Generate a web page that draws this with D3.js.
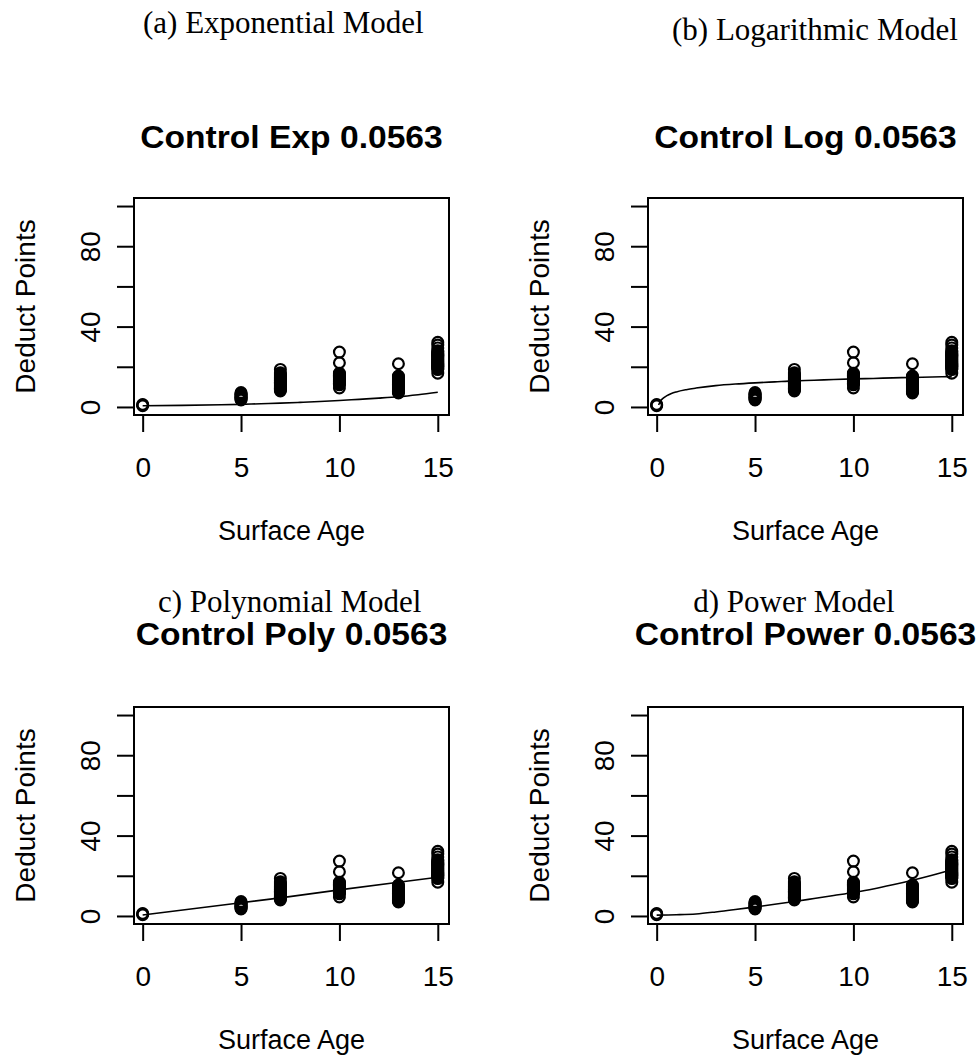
<!DOCTYPE html>
<html>
<head>
<meta charset="utf-8">
<script src="https://cdn.jsdelivr.net/npm/d3@7"></script>
<style>
  html, body { margin: 0; padding: 0; background: #fff; }
  svg { display: block; }
</style>
</head>
<body>
<svg id="chart" width="979" height="1057"></svg>
<script>
// Observed deduct points, one array per surface age
const surfaceAges = [0, 5, 7, 10, 13, 15];
const deductAge0 = [0.6, 1.0, 1.2];
const deductAge5 = [3.5, 3.9, 4.3, 4.6, 5.0, 5.4, 5.8, 6.2, 6.7, 7.2];
const deductAge7 = [8.0, 8.4, 8.9, 9.3, 9.7, 10.1, 10.6, 11.0, 11.4, 11.9, 12.3, 12.8, 13.2, 13.6, 14.1, 14.6, 15.0, 15.5, 16.0, 16.5, 17.0, 18.7];
const deductAge10 = [9.5, 11.0, 11.4, 11.8, 12.3, 12.7, 13.1, 13.6, 14.0, 14.5, 14.9, 15.4, 15.8, 16.3, 16.8, 22.0, 27.3];
const deductAge13 = [7.0, 7.4, 7.8, 8.3, 8.7, 9.1, 9.6, 10.0, 10.5, 10.9, 11.3, 11.8, 12.2, 12.7, 13.1, 13.6, 14.0, 14.5, 15.0, 15.4, 21.5];
const deductAge15 = [16.8, 18.6, 19.0, 19.4, 19.9, 20.3, 20.8, 21.2, 21.7, 22.1, 22.6, 23.0, 23.5, 23.9, 24.4, 24.8, 25.3, 25.7, 26.2, 26.6, 27.1, 27.6, 28.0, 29.4, 30.8, 32.2];

// Fitted model curves (age, predicted deduct points)
const expFitAge = [0, 2, 4, 5, 6, 7, 8, 9, 10, 11, 12, 13, 14, 15];
const expFitValue = [0.6, 0.8, 1.1, 1.3, 1.6, 1.9, 2.3, 2.7, 3.2, 3.8, 4.4, 5.1, 6.1, 7.3];
const logFitAge = [0.1, 0.2, 0.35, 0.5, 0.75, 1, 1.5, 2, 3, 4, 5, 6, 7, 8, 9, 10, 11, 12, 13, 14, 15];
const logFitValue = [1.0, 3.0, 4.5, 5.5, 6.7, 7.5, 8.6, 9.4, 10.6, 11.4, 12.0, 12.5, 13.0, 13.3, 13.7, 14.0, 14.2, 14.5, 14.7, 14.9, 15.1];
const polyFitAge = [0, 5, 7, 10, 13, 15];
const polyFitValue = [0.5, 6.6, 9.0, 13.0, 16.8, 19.3];
const powerFitAge = [0, 1, 2, 3, 4, 5, 6, 7, 8, 9, 10, 11, 12, 13, 14, 15];
const powerFitValue = [0.4, 0.6, 1.0, 2.0, 3.2, 4.5, 5.8, 7.2, 8.7, 10.2, 11.7, 13.4, 15.5, 17.8, 20.3, 23.0];

// Text
const captions = ["(a) Exponential Model", "(b) Logarithmic Model", "c) Polynomial Model", "d) Power Model"];
const panelTitles = ["Control Exp 0.0563", "Control Log 0.0563", "Control Poly 0.0563", "Control Power 0.0563"];
const xTicks = [0, 5, 10, 15];
const yTicks = [0, 20, 40, 60, 80, 100];
const yTickLabels = ["0", "", "40", "", "80", ""];
const xAxisTitle = "Surface Age";
const yAxisTitle = "Deduct Points";

const observations = [deductAge0, deductAge5, deductAge7, deductAge10, deductAge13, deductAge15]
  .flatMap((vals, i) => vals.map(v => ({ age: surfaceAges[i], value: v })));

const fits = [
  { ages: expFitAge, values: expFitValue, curve: d3.curveMonotoneX },
  { ages: logFitAge, values: logFitValue, curve: d3.curveMonotoneX },
  { ages: polyFitAge, values: polyFitValue, curve: d3.curveLinear },
  { ages: powerFitAge, values: powerFitValue, curve: d3.curveMonotoneX }
];

// Layout of the 2x2 grid
const plotW = 315, plotH = 217;
const panelLeft = [134, 648, 134, 648];
const panelTop = [198, 198, 707, 707];
const titleBaseline = [148, 148, 645, 645];
const captionPos = [
  { x: 143, y: 33, anchor: "start" },
  { x: 672, y: 40, anchor: "start" },
  { x: 158, y: 612, anchor: "start" },
  { x: 794, y: 612, anchor: "middle" }
];

const svg = d3.select("#chart");
const sans = "'Liberation Sans', Arial, Helvetica, sans-serif";
const serif = "'Liberation Serif', 'Times New Roman', Times, serif";

const x = d3.scaleLinear().domain([-0.44, 15.57]).range([0, plotW]);
const y = d3.scaleLinear().domain([-4, 104]).range([plotH, 0]);

panelTitles.forEach((title, i) => {
  // caption above each panel
  svg.append("text")
    .attr("x", captionPos[i].x).attr("y", captionPos[i].y)
    .attr("text-anchor", captionPos[i].anchor)
    .attr("font-family", serif).attr("font-size", 31)
    .attr("fill", "#000")
    .text(captions[i]);

  const cx = panelLeft[i] + plotW / 2;
  svg.append("text")
    .attr("transform", `translate(${cx},${titleBaseline[i]}) scale(1.05,1)`)
    .attr("text-anchor", "middle")
    .attr("font-family", sans).attr("font-size", 32).attr("font-weight", "bold")
    .attr("fill", "#000")
    .text(title);

  const g = svg.append("g").attr("transform", `translate(${panelLeft[i]},${panelTop[i]})`);

  // x axis
  const gx = g.append("g").attr("transform", `translate(0,${plotH})`)
    .call(d3.axisBottom(x).tickValues(xTicks).tickSize(17).tickSizeOuter(0));
  gx.select(".domain").remove();
  gx.selectAll("line").attr("stroke", "#000").attr("stroke-width", 2);
  gx.selectAll("text")
    .attr("y", 62).attr("dy", 0)
    .attr("font-family", sans).attr("font-size", 28).attr("fill", "#000");

  // y axis
  const gy = g.append("g")
    .call(d3.axisLeft(y).tickValues(yTicks).tickSize(17).tickSizeOuter(0)
      .tickFormat((d, j) => yTickLabels[j]));
  gy.select(".domain").remove();
  gy.selectAll("line").attr("stroke", "#000").attr("stroke-width", 2);
  gy.selectAll("text")
    .attr("x", 0).attr("dy", 0)
    .attr("transform", "translate(-34,0) rotate(-90)")
    .attr("text-anchor", "middle")
    .attr("font-family", sans).attr("font-size", 28).attr("fill", "#000");

  // axis titles
  g.append("text")
    .attr("x", plotW / 2).attr("y", plotH + 125)
    .attr("text-anchor", "middle")
    .attr("font-family", sans).attr("font-size", 27).attr("fill", "#000")
    .text(xAxisTitle);
  g.append("text")
    .attr("transform", `translate(-99,${plotH / 2}) rotate(-90)`)
    .attr("text-anchor", "middle")
    .attr("font-family", sans).attr("font-size", 28).attr("fill", "#000")
    .text(yAxisTitle);

  // observations
  g.selectAll("circle").data(observations).join("circle")
    .attr("cx", d => x(d.age)).attr("cy", d => y(d.value))
    .attr("r", 5.4)
    .attr("fill", "none").attr("stroke", "#000").attr("stroke-width", 2.2);

  // fitted curve
  const fit = fits[i];
  const line = d3.line().x(d => x(d[0])).y(d => y(d[1])).curve(fit.curve);
  g.append("path")
    .attr("d", line(fit.ages.map((a, k) => [a, fit.values[k]])))
    .attr("fill", "none").attr("stroke", "#000").attr("stroke-width", 1.6);

  // plot frame
  g.append("rect")
    .attr("x", 0).attr("y", 0).attr("width", plotW).attr("height", plotH)
    .attr("fill", "none").attr("stroke", "#000").attr("stroke-width", 2);
});
</script>
</body>
</html>
